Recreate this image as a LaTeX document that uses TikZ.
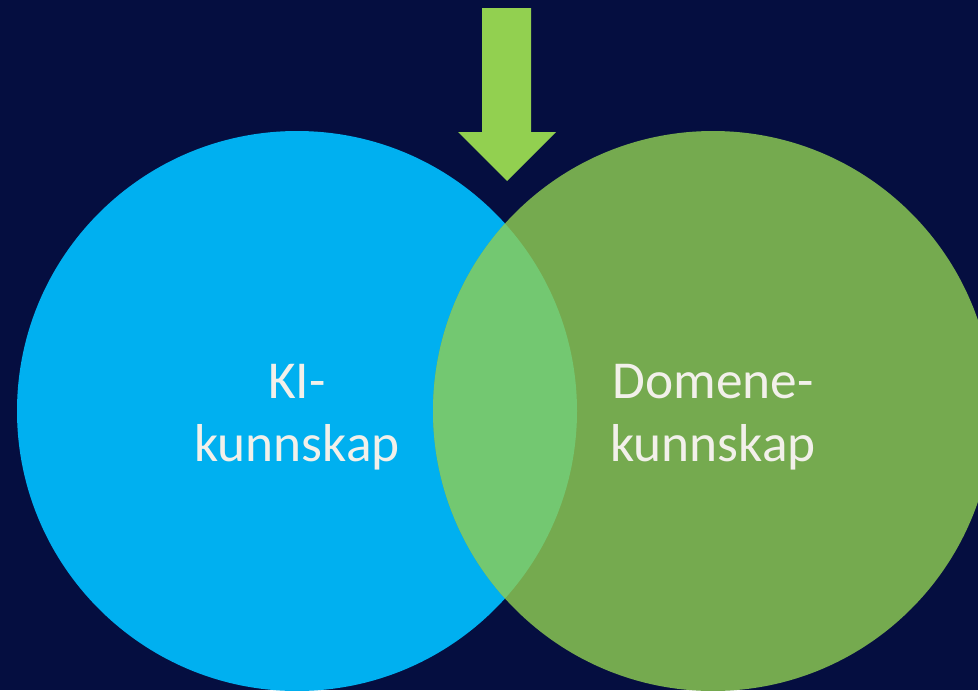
\documentclass[tikz,border=0pt]{standalone}
\usepackage{fontspec}
\setmainfont{Carlito}
\usepackage{tikz}
\usetikzlibrary{calc}
\definecolor{bgnavy}{HTML}{050E40}
\definecolor{kiblue}{HTML}{00B0F0}
\definecolor{domgreen}{HTML}{75AA4F}
\definecolor{lensgreen}{HTML}{73C871}
\definecolor{arrowgreen}{HTML}{92D050}
\definecolor{labeltext}{HTML}{F2F0EA}

\begin{document}
\begin{tikzpicture}[x=0.75pt,y=-0.75pt,inner sep=0pt,outer sep=0pt,
	set/.style={circle,minimum size=420pt},
	every node/.style={font=\fontsize{40}{47.25}\selectfont,text=labeltext,align=center}]
	% background
	\fill[bgnavy] (0,0) rectangle (978,690);
	\useasboundingbox (0,0) rectangle (978,690);
	\clip (0,0) rectangle (978,690);
	% the two sets
	\node[set,fill=kiblue] (ki) at (297,411) {};
	\node[set,fill=domgreen] (dom) at (713,411) {};
	\begin{scope}
		\clip (ki.center) circle (280);
		\fill[lensgreen] (dom.center) circle (280);
	\end{scope}
	% labels
	\node (ki_label) at ($(ki.center)+(0,6)$) {KI-\\kunnskap};
	\node (dom_label) at ($(dom.center)+(0,6)$) {Domene-\\kunnskap};
	% arrow
	\fill[arrowgreen] (482,8) -- (531,8) -- (531,132) -- (556,132) -- (507,181)
		-- (458,132) -- (482,132) -- cycle;
\end{tikzpicture}
\end{document}
